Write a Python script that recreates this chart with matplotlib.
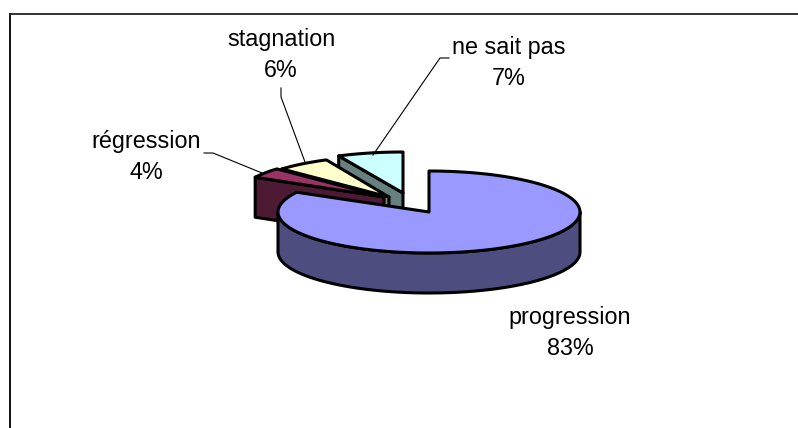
import numpy as np
import matplotlib
matplotlib.use("Agg")
from matplotlib import pyplot as plt
from matplotlib.patches import Polygon

categories = ["progression", "régression", "stagnation", "ne sait pas"]
shares = [83, 4, 6, 7]

top_colors = ["#9999FF", "#993366", "#FFFFCC", "#CCFFFF"]
side_colors = ["#4D4D80", "#4D1A33", "#808066", "#668080"]

# apex and horizontal radius of each wedge, in pixels
apexes = [(429, 212), (384, 197), (389, 197), (403, 193)]
radii = [151, 147, 147, 151]
ry = 41
depth = 40
lw = 2.2


def rim(rx, start, end, n=120):
    a = np.radians(np.linspace(start, end, n))
    return rx * np.sin(a), -ry * np.cos(a)


def main():
    plt.rcParams["font.family"] = ["Liberation Sans", "DejaVu Sans"]
    fig = plt.figure(figsize=(7.98, 4.28), dpi=100)
    ax = fig.add_axes([0, 0, 1, 1])
    ax.set_xlim(0, 798)
    ax.set_ylim(428, 0)
    ax.axis("off")

    ends = np.cumsum(shares) * 3.6
    starts = ends - np.array(shares) * 3.6

    # back slices first, the big one goes on top
    for i in [3, 2, 1, 0]:
        cx, cy = apexes[i]
        dx, dy = rim(radii[i], starts[i], ends[i])
        xs, ys = cx + dx, cy + dy
        kw = dict(ec="black", lw=lw, joinstyle="round")
        if i == 0:
            # rim wall along the front half
            fx, fy = rim(radii[i], 90, 270)
            wall = np.r_[np.c_[cx + fx, cy + fy],
                         np.c_[cx + fx, cy + fy + depth][::-1]]
            ax.add_patch(Polygon(wall, fc=side_colors[i], **kw))
        else:
            # wall on the cut face that looks towards the viewer
            wall = [(cx, cy), (xs[0], ys[0]), (xs[0], ys[0] + depth), (cx, cy + depth)]
            ax.add_patch(Polygon(wall, fc=side_colors[i], **kw))
        top = np.r_[[[cx, cy]], np.c_[xs, ys]]
        ax.add_patch(Polygon(top, fc=top_colors[i], **kw))

    # leader lines with their short elbows
    ax.plot([204, 213, 262], [153, 153, 173], color="black", lw=0.8)
    ax.plot([281, 281, 305], [88, 97, 162], color="black", lw=0.8)
    ax.plot([449, 440, 373], [58, 58, 155], color="black", lw=0.8)

    text_kw = dict(ha="center", va="center", fontsize=16.8, linespacing=1.47)
    ax.text(570, 333, f"{categories[0]}\n{shares[0]}%", **text_kw)
    ax.text(146, 157, f"{categories[1]}\n{shares[1]}%", **text_kw)
    ax.text(281, 55, f"{categories[2]}\n{shares[2]}%", **text_kw)
    ax.text(509, 63, f"{categories[3]}\n{shares[3]}%", **text_kw)

    # chart frame, open towards the bottom and right
    ax.plot([10, 10], [428, 14], color="black", lw=1.3)
    ax.plot([10, 798], [14, 14], color="#222222", lw=1.3)

    fig.savefig("out.png", dpi=100)


if __name__ == '__main__':
    main()
